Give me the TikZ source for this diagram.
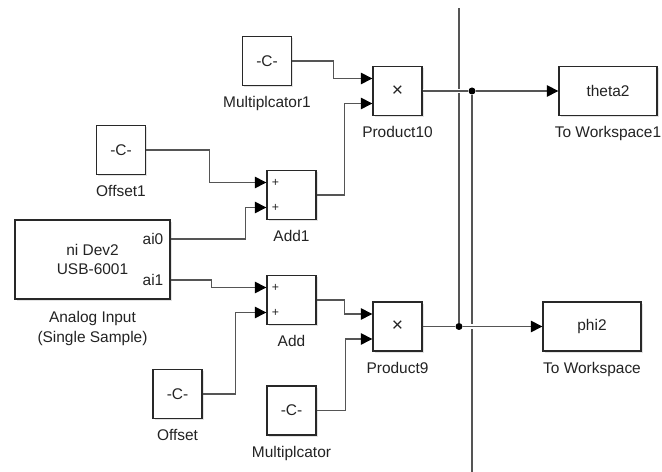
\documentclass[tikz,border=0pt]{standalone}
\usepackage{fontspec}
\setmainfont{Liberation Sans}
\usetikzlibrary{arrows.meta,positioning,shadows}

\definecolor{simBorder}{RGB}{40,40,40}
\definecolor{simWire}{RGB}{85,85,85}
\definecolor{simShadow}{RGB}{200,200,200}
\definecolor{simText}{RGB}{35,35,35}

\begin{document}
\begin{tikzpicture}[x=.02cm,y=-.02cm,
      block/.style={draw=simBorder, fill=white, line width=.75pt,
        font=\fontsize{8.8}{11.3}\selectfont, text=simText, align=center,
        minimum width=.98cm, minimum height=.98cm,
        drop shadow={shadow xshift=.035cm, shadow yshift=-.035cm,
          fill=simShadow}},
      sink/.style={block, minimum width=1.96cm},
      caption/.style={font=\fontsize{8.8}{11.3}\selectfont, text=simText,
        align=center, inner sep=0pt},
      port/.style={font=\fontsize{8.8}{10}\selectfont, text=simText,
        inner sep=0pt, anchor=east},
      sign/.style={font=\fontsize{7}{8}\selectfont, text=simText,
        inner sep=0pt},
      junction/.style={circle, fill=black, inner sep=0pt, minimum size=.14cm},
      trunk/.style={draw=simWire, line width=.6pt},
      wire/.style={trunk,
        -{Triangle[length=6.5pt,width=6.5pt,color=black]}},
      halo/.style={preaction={draw=white, line width=2.5pt, arrows=-}}]
      \useasboundingbox (0,0) rectangle (662,472);
      \fill[white] (0,0) rectangle (662,472);

      % blocks
      \node[block] (mult1) at (267,61) {-C-};
      \node[block] (offset1) at (121,150) {-C-};
      \node[block] (add1) at (291.5,195) {};
      \node[block, minimum width=3.1cm, minimum height=1.58cm]
        (daq) at (92.5,259.5) {ni Dev2\\USB-6001};
      \node[block] (add) at (291.5,300) {};
      \node[block] (offset) at (177.5,394) {-C-};
      \node[block] (mult) at (291.5,410.5) {-C-};
      \node[block, font=\fontsize{11}{12}\selectfont] (prod10) at (397.5,91) {×};
      \node[block, font=\fontsize{11}{12}\selectfont] (prod9) at (397.5,326.5) {×};
      \node[sink] (theta2) at (608,91) {theta2};
      \node[sink] (phi2) at (592,326.5) {phi2};

      \node[caption, below=.2cm of mult1] (mult1name) {Multiplcator1};
      \node[caption, below=.2cm of offset1] (offset1name) {Offset1};
      \node[caption, below=.2cm of add1] (add1name) {Add1};
      \node[caption, below=.22cm of daq] (daqname) {Analog Input\\(Single Sample)};
      \node[caption, below=.2cm of add] (addname) {Add};
      \node[caption, below=.2cm of offset] (offsetname) {Offset};
      \node[caption, below=.2cm of mult] (multname) {Multiplcator};
      \node[caption, below=.2cm of prod10] (prod10name) {Product10};
      \node[caption, below=.2cm of prod9] (prod9name) {Product9};
      \node[caption, below=.2cm of theta2] (theta2name) {To Workspace1};
      \node[caption, below=.2cm of phi2] (phi2name) {To Workspace};

      \node[port] (ai0) at ([xshift=-.14cm, yshift=.41cm]daq.east) {ai0};
      \node[port] (ai1) at ([xshift=-.14cm, yshift=-.41cm]daq.east) {ai1};
      \foreach \blk in {add1,add}{
        \foreach \s/\p in {.25cm/1,-.25cm/2}{
          \node[sign] (\blk-plus\p) at ([xshift=.18cm, yshift=\s]\blk.west) {+};}}

      % branch points
      \node[junction] (thetadot) at (472,91) {};
      \node[junction] (phidot) at (459,326.5) {};
      \coordinate (thetaend) at (472,472);
      \coordinate (phiend) at (459,8);
      \draw[trunk] (thetadot) -- (thetaend);
      \draw[trunk] (phidot) -- (phiend);

      % signals
      \draw[trunk, halo] (prod10.east) -- (thetadot);
      \draw[wire] (thetadot) -- (theta2.west);
      \draw[trunk] (prod9.east) -- (phidot);
      \draw[wire, halo] (phidot) -- (phi2.west);

      \draw[wire] (mult1.east) -- ++(41,0) |- ([yshift=.25cm]prod10.west);
      \draw[wire] (add1.east) -- ++(28,0) |- ([yshift=-.25cm]prod10.west);
      \draw[wire] (offset1.east) -- ++(63,0) |- ([yshift=.25cm]add1.west);
      \draw[wire] ([yshift=.41cm]daq.east) -- ++(75,0) |- ([yshift=-.25cm]add1.west);
      \draw[wire] ([yshift=-.41cm]daq.east) -- ++(41,0) |- ([yshift=.25cm]add.west);
      \draw[wire] (offset.east) -- ++(33,0) |- ([yshift=-.25cm]add.west);
      \draw[wire] (add.east) -- ++(28,0) |- ([yshift=.25cm]prod9.west);
      \draw[wire] (mult.east) -- ++(29,0) |- ([yshift=-.25cm]prod9.west);
    \end{tikzpicture}
\end{document}
